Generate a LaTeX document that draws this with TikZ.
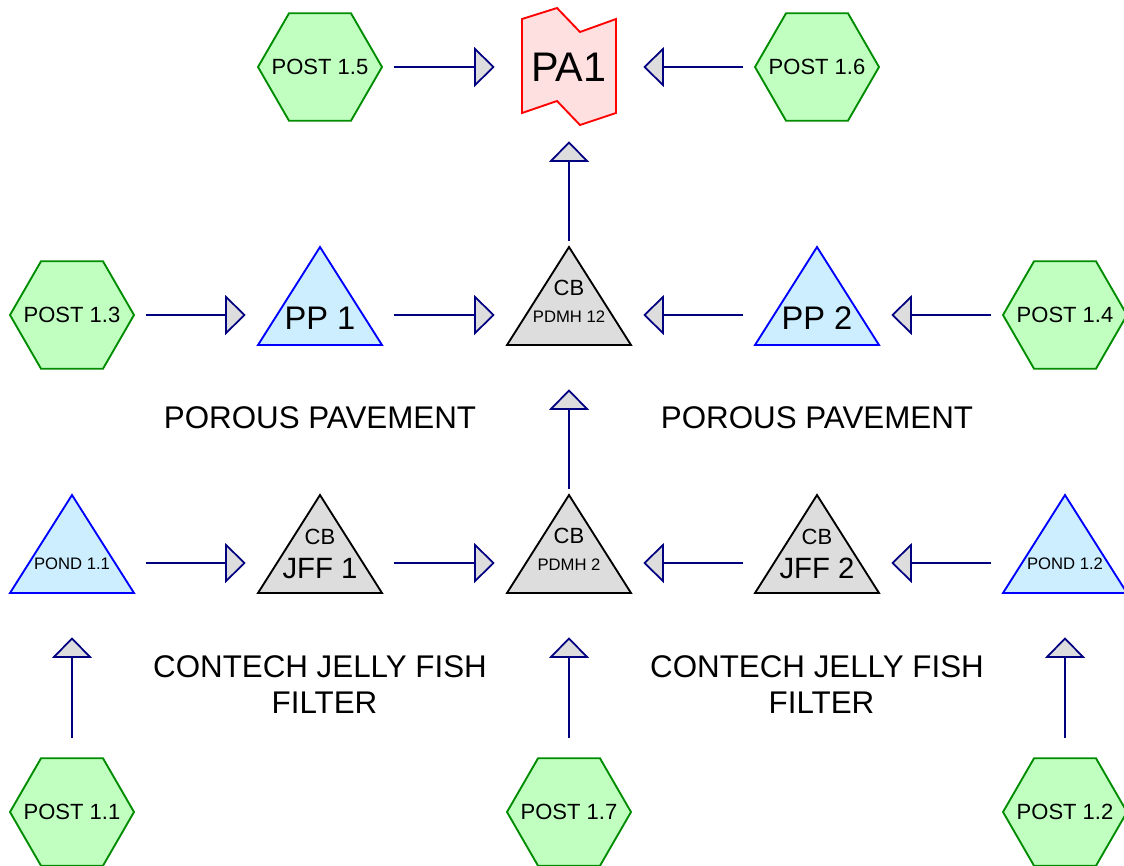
\documentclass[tikz,border=0pt]{standalone}
\usepackage{fontspec}
\setmainfont{Liberation Sans}
\usetikzlibrary{arrows.meta}
\pgfdeclarelayer{bg}
\pgfsetlayers{bg,main}
\definecolor{hexfill}{RGB}{192,255,192}
\definecolor{hexline}{RGB}{0,140,0}
\definecolor{ppfill}{RGB}{204,238,255}
\definecolor{ppline}{RGB}{0,0,255}
\definecolor{cbfill}{RGB}{221,221,221}
\definecolor{pafill}{RGB}{255,224,224}
\definecolor{paline}{RGB}{255,0,0}
\definecolor{arrline}{RGB}{0,0,128}
\newcommand\HexShape[1]{\filldraw[hexs] ([shift={(-62,0)}]#1.center) -- ([shift={(-31,-53.7)}]#1.center) -- ([shift={(31,-53.7)}]#1.center) -- ([shift={(62,0)}]#1.center) -- ([shift={(31,53.7)}]#1.center) -- ([shift={(-31,53.7)}]#1.center) -- cycle;}
\newcommand\TriShape[2]{\filldraw[#2] ([shift={(0,-68)}]#1.center) -- ([shift={(62,30)}]#1.center) -- ([shift={(-62,30)}]#1.center) -- cycle;}
\begin{document}
\begin{tikzpicture}[x=0.75pt,y=-0.75pt,
  slot/.style={draw=none, rectangle, minimum width=111pt, minimum height=111pt, inner sep=0pt},
  hexs/.style={fill=hexfill, draw=hexline, line width=1.4pt},
  pps/.style={fill=ppfill, draw=ppline, line width=1.4pt},
  cbs/.style={fill=cbfill, draw=black, line width=1.4pt},
  pas/.style={fill=pafill, draw=paline, line width=1.4pt},
  flow/.style={draw=arrline, line width=1.3pt, -{Triangle[length=15.5pt, width=30pt, fill=cbfill]}},
  hexfont/.style={font=\fontsize{16.5}{20}\selectfont},
  pafont/.style={font=\fontsize{31}{36}\selectfont},
  bigfont/.style={font=\fontsize{22}{26}\selectfont, inner sep=0pt},
  ppfont/.style={font=\fontsize{24.5}{28}\selectfont, inner sep=0pt},
  cbfont/.style={font=\fontsize{16.5}{20}\selectfont, inner sep=0pt},
  smallfont/.style={font=\fontsize{12.5}{15}\selectfont, inner sep=0pt},
  lbl/.style={font=\fontsize{23.5}{27}\selectfont, align=center, inner sep=0pt}
]
\useasboundingbox (0,0) rectangle (1124,865);
% slots
\node[slot, hexfont] (post15) at (320,67) {POST 1.5};
\node[slot, pafont] (pa1) at (569,67) {PA1};
\node[slot, hexfont] (post16) at (817,67) {POST 1.6};
\node[slot, hexfont] (post13) at (72,315) {POST 1.3};
\node[slot] (pp1) at (320,315) {};
\node[slot] (pdmh12) at (569,315) {};
\node[slot] (pp2) at (817,315) {};
\node[slot, hexfont] (post14) at (1065,315) {POST 1.4};
\node[slot] (pond11) at (72,563) {};
\node[slot] (jff1) at (320,563) {};
\node[slot] (pdmh2) at (569,563) {};
\node[slot] (jff2) at (817,563) {};
\node[slot] (pond12) at (1065,563) {};
\node[slot, hexfont] (post11) at (72,812) {POST 1.1};
\node[slot, hexfont] (post17) at (569,812) {POST 1.7};
\node[slot, hexfont] (post12) at (1065,812) {POST 1.2};
% texts in triangles
\node[ppfont] (pp1t) at ([shift={(0,3)}]pp1.center) {PP 1};
\node[ppfont] (pp2t) at ([shift={(0,3)}]pp2.center) {PP 2};
\node[cbfont] (pdmh12cb) at ([shift={(0,-27.5)}]pdmh12.center) {CB};
\node[smallfont] (pdmh12t) at ([shift={(0,1.5)}]pdmh12.center) {PDMH 12};
\node[cbfont] (pdmh2cb) at ([shift={(0,-27.5)}]pdmh2.center) {CB};
\node[smallfont] (pdmh2t) at ([shift={(0,1.5)}]pdmh2.center) {PDMH 2};
\node[cbfont] (jff1cb) at ([shift={(0,-26.5)}]jff1.center) {CB};
\node[bigfont] (jff1t) at ([shift={(0,5.5)}]jff1.center) {JFF 1};
\node[cbfont] (jff2cb) at ([shift={(0,-26.5)}]jff2.center) {CB};
\node[bigfont] (jff2t) at ([shift={(0,5.5)}]jff2.center) {JFF 2};
\node[smallfont] (pond11t) at ([shift={(0,1)}]pond11.center) {POND 1.1};
\node[smallfont] (pond12t) at ([shift={(0,1)}]pond12.center) {POND 1.2};
% free labels
\node[lbl] (porous1) at (320,418) {POROUS PAVEMENT};
\node[lbl] (porous2) at (817,418) {POROUS PAVEMENT};
\node[lbl] (contech1) at (320,685) {CONTECH JELLY FISH\\\hspace*{6.75pt}FILTER};
\node[lbl] (contech2) at (817,685) {CONTECH JELLY FISH\\\hspace*{6.75pt}FILTER};
% shapes
\begin{pgfonlayer}{bg}
\HexShape{post15}\HexShape{post16}\HexShape{post13}\HexShape{post14}
\HexShape{post11}\HexShape{post17}\HexShape{post12}
\TriShape{pp1}{pps}\TriShape{pp2}{pps}\TriShape{pond11}{pps}\TriShape{pond12}{pps}
\TriShape{pdmh12}{cbs}\TriShape{pdmh2}{cbs}\TriShape{jff1}{cbs}\TriShape{jff2}{cbs}
\filldraw[pas] ([shift={(-47,-48)}]pa1.center) -- ([shift={(-12,-59)}]pa1.center) -- ([shift={(11,-35)}]pa1.center) -- ([shift={(47,-48)}]pa1.center) -- ([shift={(47,46)}]pa1.center) -- ([shift={(11,58)}]pa1.center) -- ([shift={(-12,34)}]pa1.center) -- ([shift={(-47,46)}]pa1.center) -- cycle;
\end{pgfonlayer}
% connectors
\draw[flow] (post15) -- (pa1);
\draw[flow] (post16) -- (pa1);
\draw[flow] (pdmh12) -- (pa1);
\draw[flow] (post13) -- (pp1);
\draw[flow] (pp1) -- (pdmh12);
\draw[flow] (post14) -- (pp2);
\draw[flow] (pp2) -- (pdmh12);
\draw[flow] (pdmh2) -- (pdmh12);
\draw[flow] (pond11) -- (jff1);
\draw[flow] (jff1) -- (pdmh2);
\draw[flow] (pond12) -- (jff2);
\draw[flow] (jff2) -- (pdmh2);
\draw[flow] (post11) -- (pond11);
\draw[flow] (post17) -- (pdmh2);
\draw[flow] (post12) -- (pond12);
\end{tikzpicture}
\end{document}
